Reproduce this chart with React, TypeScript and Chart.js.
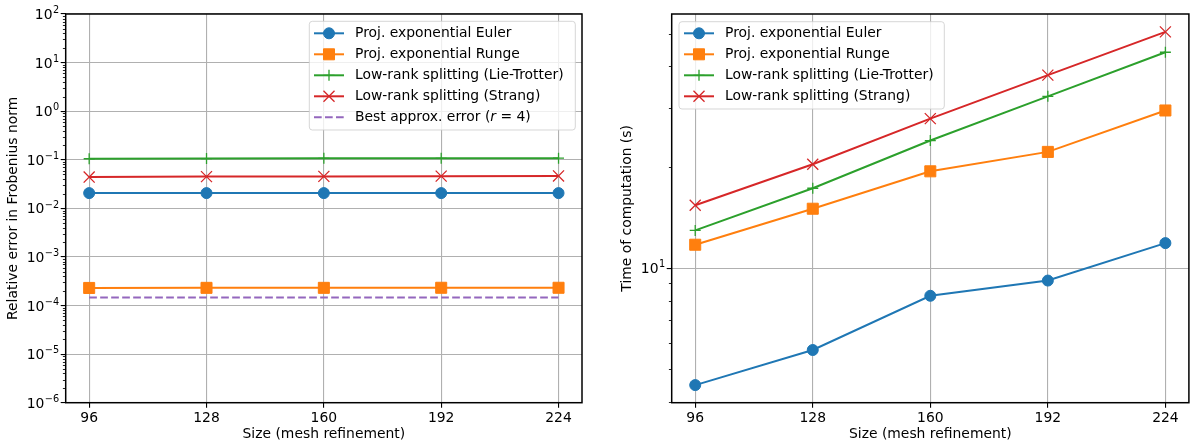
import React, { useEffect, useRef } from "react";
import { Chart, registerables } from "chart.js";

Chart.register(...registerables);

// Mesh sizes on the x axis
const sizes = [96, 128, 160, 192, 224];

// Relative error in Frobenius norm
const errEuler = [0.0206, 0.0206, 0.0206, 0.0206, 0.0206];
const errRunge = [2.3e-4, 2.31e-4, 2.31e-4, 2.32e-4, 2.32e-4];
const errLieTrotter = [0.105, 0.106, 0.107, 0.107, 0.108];
const errStrang = [0.044, 0.045, 0.0455, 0.046, 0.0465];
const errBest = [1.46e-4, 1.46e-4, 1.46e-4, 1.46e-4, 1.46e-4];

// Time of computation (s)
const timeEuler = [4.48, 5.7, 8.27, 9.18, 11.87];
const timeRunge = [11.74, 15.03, 19.43, 22.2, 29.5];
const timeLieTrotter = [12.95, 17.3, 24.0, 32.5, 44.0];
const timeStrang = [15.4, 20.4, 27.9, 37.6, 50.6];

// Tick values and labels (labels are powers of ten: base "10" with the given exponent)
const xTicks = [96, 128, 160, 192, 224];
const errMajorTicks = [1e-6, 1e-5, 1e-4, 1e-3, 1e-2, 1e-1, 1e0, 1e1, 1e2];
const errTickExponents = ["−6", "−5", "−4", "−3", "−2", "−1", "0", "1", "2"];
const timeTicks = [4, 5, 6, 7, 8, 9, 10, 20, 30, 40, 50];
const timeMajorTicks = [10];
const timeTickExponents = ["1"];

// minor ticks 1..9 × 10^k between the decades
const errTicks: number[] = [];
for (let k = -6; k < 2; k++) for (let m = 1; m <= 9; m++) errTicks.push(m * Math.pow(10, k));
errTicks.push(1e2);

const C0 = "#1f77b4";
const C1 = "#ff7f0e";
const C2 = "#2ca02c";
const C3 = "#d62728";
const C4 = "#9467bd";

const FONT = "'DejaVu Sans', 'Liberation Sans', sans-serif";
const FS = 13.9;
const GRID = "#b0b0b0";

const toXY = (ys: number[]) => ys.map((y, i) => ({ x: sizes[i], y }));
const isMajor = (v: number, majors: number[]) => majors.some((m) => Math.abs(m - v) / m < 1e-9);

function series(label: string, data: number[], color: string, style: string, radius: number, pbw: number, idx: number, extra: any = {}) {
  return {
    label,
    data: toXY(data),
    borderColor: color,
    backgroundColor: color,
    pointBackgroundColor: color,
    pointBorderColor: color,
    borderWidth: 2,
    pointStyle: style,
    pointRadius: radius,
    pointHoverRadius: radius,
    pointBorderWidth: pbw,
    tension: 0,
    fill: false,
    order: -idx,
    ...extra,
  };
}

function drawMarker(ctx: CanvasRenderingContext2D, style: string, r: number, cx: number, cy: number, color: string, lw: number) {
  if (!r) return;
  ctx.save();
  ctx.setLineDash([]);
  ctx.fillStyle = color;
  ctx.strokeStyle = color;
  ctx.lineWidth = lw;
  ctx.beginPath();
  if (style === "circle") {
    ctx.arc(cx, cy, r, 0, Math.PI * 2);
    ctx.fill();
    ctx.stroke();
  } else if (style === "rect") {
    const s = r * Math.SQRT2;
    ctx.rect(cx - s / 2, cy - s / 2, s, s);
    ctx.fill();
    ctx.stroke();
  } else if (style === "cross") {
    ctx.moveTo(cx - r, cy);
    ctx.lineTo(cx + r, cy);
    ctx.moveTo(cx, cy - r);
    ctx.lineTo(cx, cy + r);
    ctx.stroke();
  } else if (style === "crossRot") {
    const d = r * Math.SQRT1_2;
    ctx.moveTo(cx - d, cy - d);
    ctx.lineTo(cx + d, cy + d);
    ctx.moveTo(cx + d, cy - d);
    ctx.lineTo(cx - d, cy + d);
    ctx.stroke();
  }
  ctx.restore();
}

// Frame around the plot area, short minor ticks and power-of-ten y labels
const framePlugin = {
  id: "mplFrame",
  afterDatasetsDraw(chart: any, _args: any, opts: any) {
    const { ctx, chartArea: a } = chart;
    const y = chart.scales.y;
    ctx.save();
    // minor ticks
    ctx.strokeStyle = "#000";
    ctx.lineWidth = 0.85;
    ctx.beginPath();
    y.ticks.forEach((t: any) => {
      if (isMajor(t.value, opts.majors)) return;
      const py = Math.round(y.getPixelForValue(t.value)) + 0.5;
      ctx.moveTo(a.left - 2.8, py);
      ctx.lineTo(a.left, py);
    });
    ctx.stroke();

    // labels: "10" with a raised exponent
    ctx.fillStyle = "#000";
    ctx.textBaseline = "alphabetic";
    ctx.textAlign = "left";
    opts.majors.forEach((v: number, i: number) => {
      const py = y.getPixelForValue(v);
      const exp = opts.exponents[i];
      ctx.font = `${FS * 0.7}px ${FONT}`;
      const ew = ctx.measureText(exp).width;
      ctx.font = `${FS}px ${FONT}`;
      const bw = ctx.measureText("10").width;
      const right = a.left - 6.5;
      const x0 = right - ew - bw - 0.5;
      const base = py + 5.1;
      ctx.fillText("10", x0, base);
      ctx.font = `${FS * 0.7}px ${FONT}`;
      ctx.fillText(exp, x0 + bw + 0.5, base - 5.8);
    });

    // frame
    ctx.strokeStyle = "#000";
    ctx.lineWidth = 1.5;
    ctx.strokeRect(a.left, a.top, a.right - a.left, a.bottom - a.top);
    ctx.restore();
  },
};

// Boxed legend with line+marker handles
const legendPlugin = {
  id: "mplLegend",
  afterDraw(chart: any, _args: any, opts: any) {
    if (!opts || opts.x === undefined) return;
    const { ctx } = chart;
    const { x, y, w, h, row0, step, hx0, hx1, tx } = opts;
    ctx.save();
    const rr = 3;
    ctx.beginPath();
    ctx.moveTo(x + rr, y);
    ctx.lineTo(x + w - rr, y);
    ctx.arcTo(x + w, y, x + w, y + rr, rr);
    ctx.lineTo(x + w, y + h - rr);
    ctx.arcTo(x + w, y + h, x + w - rr, y + h, rr);
    ctx.lineTo(x + rr, y + h);
    ctx.arcTo(x, y + h, x, y + h - rr, rr);
    ctx.lineTo(x, y + rr);
    ctx.arcTo(x, y, x + rr, y, rr);
    ctx.closePath();
    ctx.fillStyle = "rgba(255,255,255,0.8)";
    ctx.fill();
    ctx.strokeStyle = "rgba(204,204,204,0.8)";
    ctx.lineWidth = 1;
    ctx.stroke();

    chart.data.datasets.forEach((ds: any, i: number) => {
      const cy = row0 + i * step;
      ctx.save();
      ctx.strokeStyle = ds.borderColor;
      ctx.lineWidth = ds.borderWidth;
      ctx.setLineDash(ds.borderDash || []);
      ctx.beginPath();
      ctx.moveTo(hx0, cy);
      ctx.lineTo(hx1, cy);
      ctx.stroke();
      ctx.restore();
      drawMarker(ctx, ds.pointStyle, ds.pointRadius, (hx0 + hx1) / 2, cy, ds.borderColor, ds.pointBorderWidth);

      ctx.fillStyle = "#000";
      ctx.textBaseline = "middle";
      ctx.textAlign = "left";
      const parts: [string, boolean][] = ds.labelParts || [[ds.label, false]];
      let cx = tx;
      parts.forEach(([t, italic]) => {
        ctx.font = `${italic ? "italic " : ""}${FS}px ${FONT}`;
        ctx.fillText(t, cx, cy);
        cx += ctx.measureText(t).width;
      });
    });
    ctx.restore();
  },
};

function makeOptions(cfg: {
  yMin: number;
  yMax: number;
  yTicks: number[];
  majors: number[];
  exponents: string[];
  yTitle: string;
  yWidth: number;
  yTitlePad: number;
  padRight: number;
  legend: any;
}) {
  return {
    responsive: false,
    animation: false as const,
    layout: { padding: { left: 0, top: 14, right: cfg.padRight, bottom: 0 } },
    plugins: {
      legend: { display: false },
      tooltip: { enabled: false },
      mplLegend: cfg.legend,
      mplFrame: { majors: cfg.majors, exponents: cfg.exponents },
    },
    scales: {
      x: {
        type: "linear" as const,
        min: 89.6,
        max: 230.4,
        bounds: "data" as const,
        afterBuildTicks: (s: any) => {
          s.ticks = xTicks.map((v) => ({ value: v }));
        },
        afterFit: (s: any) => {
          s.height = 41.3;
        },
        ticks: {
          autoSkip: false,
          maxRotation: 0,
          padding: 2,
          color: "#000",
          font: { family: FONT, size: FS },
          callback: (v: any) => String(v),
        },
        grid: { color: GRID, lineWidth: 1.1, tickColor: "#000", tickLength: 5, tickWidth: 1.1 },
        border: { display: false },
        title: {
          display: true,
          text: "Size (mesh refinement)",
          color: "#000",
          font: { family: FONT, size: FS },
          padding: { top: 0, bottom: 1.6 },
        },
      },
      y: {
        type: "logarithmic" as const,
        min: cfg.yMin,
        max: cfg.yMax,
        bounds: "data" as const,
        afterBuildTicks: (s: any) => {
          s.ticks = cfg.yTicks.map((v) => ({ value: v }));
        },
        afterFit: (s: any) => {
          s.width = cfg.yWidth;
        },
        ticks: { display: false, autoSkip: false },
        grid: {
          color: (c: any) => (c.tick && isMajor(c.tick.value, cfg.majors) ? GRID : "rgba(0,0,0,0)"),
          lineWidth: 1.1,
          tickColor: (c: any) => (c.tick && isMajor(c.tick.value, cfg.majors) ? "#000" : "rgba(0,0,0,0)"),
          tickLength: 5,
          tickWidth: 1.1,
        },
        border: { display: false },
        title: {
          display: true,
          text: cfg.yTitle,
          color: "#000",
          font: { family: FONT, size: FS },
          padding: { top: cfg.yTitlePad, bottom: 0 },
        },
      },
    },
  };
}

function ErrorChart() {
  const ref = useRef<HTMLCanvasElement>(null);
  useEffect(() => {
    const chart = new Chart(ref.current!, {
      type: "line",
      data: {
        datasets: [
          series("Proj. exponential Euler", errEuler, C0, "circle", 5.5, 1, 0),
          series("Proj. exponential Runge", errRunge, C1, "rect", 7.8, 1, 1),
          series("Low-rank splitting (Lie-Trotter)", errLieTrotter, C2, "cross", 5.5, 1.3, 2),
          series("Low-rank splitting (Strang)", errStrang, C3, "crossRot", 7.8, 1.3, 3),
          series("Best approx. error (r = 4)", errBest, C4, "circle", 0, 0, 4, {
            borderDash: [7.7, 3.3],
            labelParts: [
              ["Best approx. error (", false],
              ["r", true],
              [" = 4)", false],
            ],
          }),
        ] as any,
      },
      options: makeOptions({
        yMin: 1e-6,
        yMax: 1e2,
        yTicks: errTicks,
        majors: errMajorTicks,
        exponents: errTickExponents,
        yTitle: "Relative error in Frobenius norm",
        yWidth: 65.7,
        yTitlePad: 5.2,
        padRight: 18,
        legend: { x: 309.3, y: 21.3, w: 266, h: 108.7, row0: 33.3, step: 21, hx0: 314, hx1: 344, tx: 355 },
      }) as any,
      plugins: [framePlugin, legendPlugin],
    });
    return () => chart.destroy();
  }, []);
  return <canvas ref={ref} width={600} height={444} style={{ position: "absolute", left: 0, top: 0 }} />;
}

function TimeChart() {
  const ref = useRef<HTMLCanvasElement>(null);
  useEffect(() => {
    const chart = new Chart(ref.current!, {
      type: "line",
      data: {
        datasets: [
          series("Proj. exponential Euler", timeEuler, C0, "circle", 5.5, 1, 0),
          series("Proj. exponential Runge", timeRunge, C1, "rect", 7.8, 1, 1),
          series("Low-rank splitting (Lie-Trotter)", timeLieTrotter, C2, "cross", 5.5, 1.3, 2),
          series("Low-rank splitting (Strang)", timeStrang, C3, "crossRot", 7.8, 1.3, 3),
        ] as any,
      },
      options: makeOptions({
        yMin: 3.97,
        yMax: 57.2,
        yTicks: timeTicks,
        majors: timeMajorTicks,
        exponents: timeTickExponents,
        yTitle: "Time of computation (s)",
        yWidth: 71.7,
        yTitlePad: 19.2,
        padRight: 2.3,
        legend: { x: 79, y: 21.7, w: 265.3, h: 87.3, row0: 33.3, step: 21, hx0: 84, hx1: 114, tx: 125 },
      }) as any,
      plugins: [framePlugin, legendPlugin],
    });
    return () => chart.destroy();
  }, []);
  return <canvas ref={ref} width={598} height={444} style={{ position: "absolute", left: 600, top: 0 }} />;
}

export default function App() {
  return (
    <div style={{ position: "fixed", left: 0, top: 0, width: 1198, height: 444, background: "#fff", overflow: "hidden" }}>
      <ErrorChart />
      <TimeChart />
    </div>
  );
}
